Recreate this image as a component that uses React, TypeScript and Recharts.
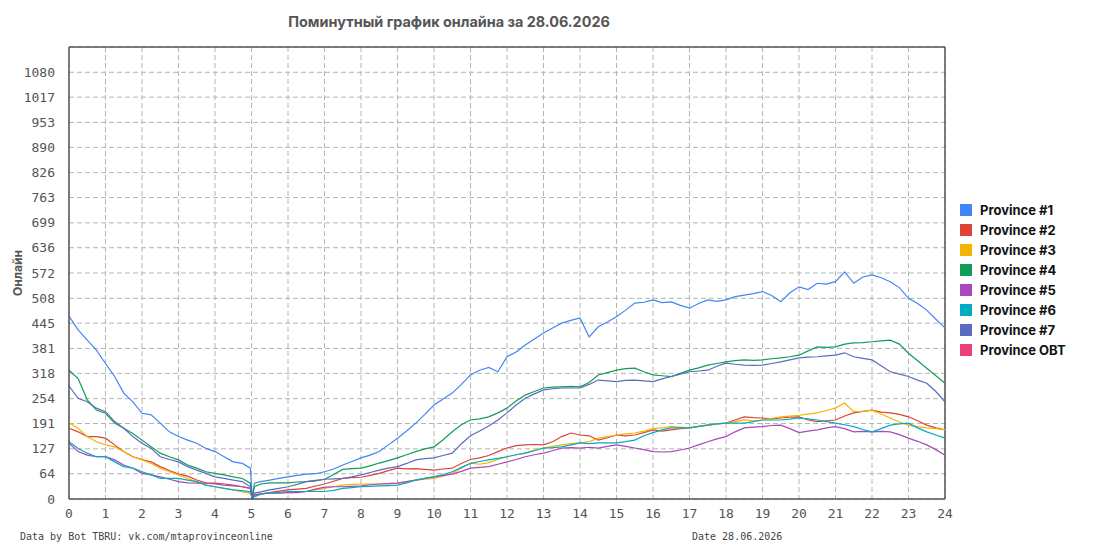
import React from 'react';
import { LineChart, Line, XAxis, YAxis, CartesianGrid, ReferenceLine, Label } from 'recharts';

// hour of day, quarter-hour samples plus the restart dip at 5:00
const hours = [
  0, 0.25, 0.5, 0.75, 1, 1.25, 1.5, 1.75, 2, 2.25, 2.5, 2.75, 3, 3.25, 3.5, 3.75, 4, 4.25, 4.5, 4.75,
  4.97, 5.02, 5.08, 5.25, 5.5, 5.75,
  6, 6.25, 6.5, 6.75, 7, 7.25, 7.5, 7.75, 8, 8.25, 8.5, 8.75, 9, 9.25, 9.5, 9.75,
  10, 10.25, 10.5, 10.75, 11, 11.25, 11.5, 11.75, 12, 12.25, 12.5, 12.75, 13, 13.25, 13.5, 13.75,
  14, 14.25, 14.5, 14.75, 15, 15.25, 15.5, 15.75, 16, 16.25, 16.5, 16.75, 17, 17.25, 17.5, 17.75,
  18, 18.25, 18.5, 18.75, 19, 19.25, 19.5, 19.75, 20, 20.25, 20.5, 20.75, 21, 21.25, 21.5, 21.75,
  22, 22.25, 22.5, 22.75, 23, 23.25, 23.5, 23.75, 24,
];

const p1 = [
  463, 428, 402, 377, 343, 310, 268, 246, 217, 213, 192, 170, 158, 149, 141, 128, 120, 107, 94, 90,
  78, 3, 40, 44, 48, 52,
  56, 60, 63, 64, 69, 76, 86, 95, 104, 111, 120, 137, 154, 172, 192, 214,
  238, 253, 268, 290, 314, 326, 333, 322, 360, 372, 390, 405, 420, 433, 445, 452,
  458, 410, 436, 448, 461, 478, 496, 498, 504, 497, 499, 490, 483, 495, 504, 500,
  504, 512, 516, 520, 525, 515, 499, 522, 537, 530, 546, 544, 550, 575, 546, 562,
  567, 560, 550, 535, 508, 495, 478, 455, 433,
];
const p2 = [
  179, 170, 158, 158, 154, 137, 120, 107, 100, 94, 82, 72, 63, 58, 48, 41, 40, 38, 35, 31,
  27, 2, 10, 13, 16, 20,
  23, 25, 27, 33, 38, 45, 52, 54, 55, 60, 65, 72, 78, 76, 77, 75,
  73, 76, 78, 90, 100, 104, 110, 120, 129, 135, 137, 138, 137, 145, 158, 167,
  162, 160, 149, 155, 162, 160, 162, 168, 175, 172, 175, 178, 180, 184, 187, 190,
  192, 200, 208, 206, 205, 203, 205, 207, 208, 200, 196, 198, 200, 210, 218, 222,
  225, 220, 218, 214, 208, 198, 187, 180, 175,
];
const p3 = [
  193, 179, 158, 145, 137, 132, 120, 107, 99, 90, 78, 69, 61, 52, 44, 35, 31, 27, 23, 18,
  14, 1, 6, 12, 16, 16,
  16, 17, 19, 23, 27, 31, 35, 37, 38, 38, 38, 39, 40, 44, 48, 50,
  52, 58, 65, 78, 91, 88, 92, 100, 107, 112, 116, 124, 129, 133, 137, 140,
  142, 145, 154, 158, 162, 165, 167, 172, 178, 180, 183, 182, 180, 184, 187, 190,
  192, 196, 200, 198, 200, 204, 208, 210, 212, 215, 218, 224, 230, 243, 221, 222,
  225, 215, 205, 195, 187, 183, 180, 178, 175,
];
const p4 = [
  326, 305, 251, 225, 217, 192, 179, 166, 149, 132, 116, 107, 99, 86, 78, 69, 65, 61, 56, 52,
  40, 3, 31, 38, 41, 41,
  41, 43, 44, 46, 50, 62, 75, 77, 78, 84, 91, 97, 104, 112, 120, 127,
  132, 150, 170, 188, 200, 203, 208, 218, 230, 248, 263, 272, 281, 283, 284, 285,
  284, 295, 314, 320, 326, 330, 331, 322, 314, 312, 310, 318, 326, 332, 339, 343,
  347, 350, 352, 351, 352, 355, 357, 360, 364, 375, 385, 384, 385, 392, 395, 396,
  398, 400, 402, 392, 369, 350, 331, 312, 293,
];
const p5 = [
  141, 120, 111, 107, 107, 99, 86, 78, 65, 61, 56, 50, 44, 41, 40, 40, 38, 35, 33, 31,
  27, 1, 10, 13, 15, 15,
  16, 16, 19, 25, 30, 31, 31, 32, 33, 36, 38, 39, 40, 44, 48, 52,
  56, 60, 63, 70, 78, 80, 82, 88, 94, 100, 107, 112, 116, 122, 129, 130,
  129, 131, 129, 133, 137, 133, 129, 125, 120, 119, 120, 124, 129, 137, 145, 152,
  158, 170, 180, 182, 183, 186, 187, 178, 168, 172, 175, 180, 183, 178, 170, 171,
  170, 171, 170, 163, 154, 146, 137, 125, 111,
];
const p6 = [
  145, 128, 116, 107, 107, 94, 82, 78, 69, 61, 52, 52, 52, 48, 44, 35, 31, 27, 23, 21,
  18, 1, 6, 12, 16, 17,
  19, 19, 19, 19, 19, 22, 27, 29, 31, 32, 33, 34, 35, 41, 48, 52,
  56, 62, 69, 80, 90, 95, 99, 103, 107, 112, 116, 122, 129, 130, 132, 137,
  142, 140, 142, 142, 142, 145, 149, 160, 168, 175, 180, 180, 180, 184, 187, 190,
  192, 192, 192, 196, 200, 200, 200, 202, 205, 203, 200, 196, 192, 188, 183, 176,
  170, 178, 187, 190, 192, 180, 170, 162, 154,
];
const p7 = [
  286, 255, 246, 230, 221, 196, 179, 158, 141, 128, 107, 100, 94, 82, 73, 65, 56, 52, 48, 44,
  31, 2, 15, 18, 23, 27,
  31, 37, 44, 47, 50, 51, 52, 56, 61, 67, 73, 78, 82, 90, 99, 102,
  104, 110, 116, 140, 160, 172, 185, 200, 218, 238, 255, 266, 276, 279, 281, 281,
  281, 290, 301, 299, 297, 300, 301, 299, 297, 304, 310, 316, 322, 324, 326, 336,
  344, 341, 339, 338, 339, 343, 347, 352, 357, 359, 360, 362, 364, 370, 360, 356,
  352, 337, 322, 316, 310, 301, 293, 272, 246,
];

const seriesNames = ['Province #1', 'Province #2', 'Province #3', 'Province #4', 'Province #5', 'Province #6', 'Province #7', 'Province OBT'];
const seriesColors = ['#4285f4', '#db4437', '#f4b400', '#0f9d58', '#ab47bc', '#00acc1', '#5c6bc0', '#ec407a'];
const seriesValues = [p1, p2, p3, p4, p5, p6, p7];

const xTicks = [0, 1, 2, 3, 4, 5, 6, 7, 8, 9, 10, 11, 12, 13, 14, 15, 16, 17, 18, 19, 20, 21, 22, 23, 24];
const yTicks = [0, 64, 127, 191, 254, 318, 381, 445, 508, 572, 636, 699, 763, 826, 890, 953, 1017, 1080, 1144];

const data = hours.map((h, i) => {
  const row: Record<string, number> = { h };
  seriesValues.forEach((vals, s) => {
    row[`s${s}`] = vals[i];
  });
  return row;
});

const mono = '"DejaVu Sans Mono", monospace';
const sans = 'Inter, "Noto Sans", sans-serif';

export default function App() {
  return (
    <div style={{ position: 'relative', width: 1095, height: 550, background: '#fff' }}>
      <style>{`body{margin:0}`}</style>
      <div
        style={{
          position: 'absolute', left: 0, width: 898, top: 13, textAlign: 'center',
          fontFamily: sans, fontWeight: 700, fontSize: 14.4, color: '#555',
        }}
      >
        Поминутный график онлайна за 28.06.2026
      </div>
      <LineChart width={1095} height={550} data={data} margin={{ top: 47, right: 150, bottom: 21, left: 0 }}>
        <CartesianGrid stroke="#b4b4b4" strokeDasharray="5 3" vertical horizontal />
        <XAxis
          type="number"
          dataKey="h"
          domain={[0, 24]}
          ticks={xTicks}
          interval={0}
          tickLine={false}
          axisLine={{ stroke: '#555', strokeWidth: 1.5 }}
          tick={{ fontFamily: mono, fontSize: 13, fill: '#555' }}
          tickMargin={4}
          height={30}
        />
        <YAxis
          type="number"
          domain={[0, 1144]}
          ticks={yTicks}
          interval={0}
          tickLine={false}
          axisLine={{ stroke: '#555', strokeWidth: 1.5 }}
          tick={{ fontFamily: mono, fontSize: 13, fill: '#555' }}
          tickFormatter={(v: number) => (v === 1144 ? '' : String(v))}
          tickMargin={8}
          width={69}
        >
          <Label
            value="Онлайн"
            angle={-90}
            position="insideLeft"
            offset={18}
            style={{ fontFamily: sans, fontWeight: 700, fontSize: 12, fill: '#555', textAnchor: 'middle' }}
          />
        </YAxis>
        <ReferenceLine y={1144} stroke="#555" strokeWidth={1.5} />
        <ReferenceLine x={24} stroke="#555" strokeWidth={1.5} />
        {seriesValues.map((_, s) => (
          <Line
            key={s}
            type="linear"
            dataKey={`s${s}`}
            name={seriesNames[s]}
            stroke={seriesColors[s]}
            strokeWidth={1.2}
            dot={false}
            isAnimationActive={false}
          />
        ))}
      </LineChart>
      <div style={{ position: 'absolute', left: 960, top: 200 }}>
        {seriesNames.map((n, i) => (
          <div key={n} style={{ display: 'flex', alignItems: 'center', height: 20 }}>
            <div style={{ width: 12, height: 12, background: seriesColors[i], marginRight: 8 }} />
            <span style={{ fontFamily: sans, fontWeight: 700, fontSize: 13, color: '#111' }}>{n}</span>
          </div>
        ))}
      </div>
      <div style={{ position: 'absolute', left: 20, top: 531, fontFamily: mono, fontSize: 10, color: '#444' }}>
        Data by Bot TBRU: vk.com/mtaprovinceonline
      </div>
      <div style={{ position: 'absolute', left: 692, top: 531, fontFamily: mono, fontSize: 10, color: '#444' }}>
        Date 28.06.2026
      </div>
    </div>
  );
}
